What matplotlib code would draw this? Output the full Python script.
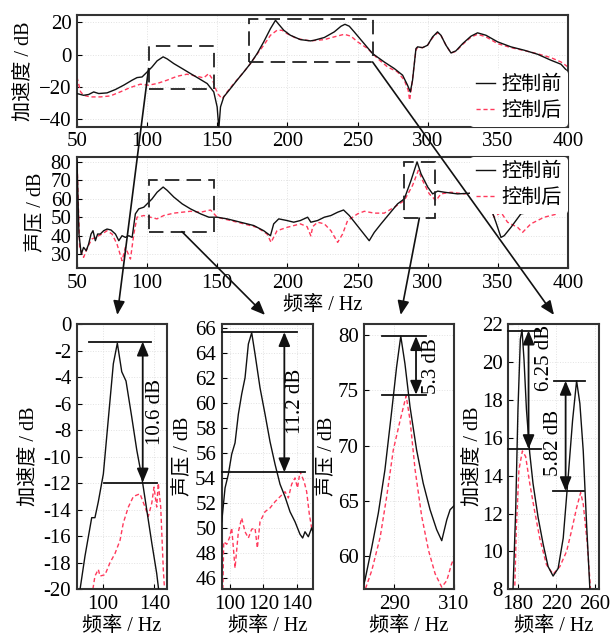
import matplotlib
matplotlib.use('Agg')
import matplotlib.pyplot as plt
from matplotlib.patches import Rectangle, ConnectionPatch, ArrowStyle
from matplotlib.ticker import FuncFormatter

plt.rcParams['font.family'] = ['Liberation Serif', 'Noto Sans CJK SC']
plt.rcParams['axes.unicode_minus'] = True

# ---------------- data: acceleration (top panel) ----------------
acc_before_f = [50, 54.7, 58.3, 61.9, 65.5, 71.4, 77.4, 83.3, 89.3, 92.8, 96.4, 100, 103.5, 107.1,
                111.4, 114.3, 119, 125, 130.9, 136.9, 142.8, 147.5, 149.9, 151.1, 152.3, 154.6,
                159.4, 164.1, 168.9, 173.6, 178.4, 183.1, 187.9, 191.5, 193.8, 197.4, 202.1, 209.2,
                216.4, 219.1, 226.3, 233.4, 238.2, 241, 244.1, 247.6, 253.6, 260.7, 269, 276.2,
                282.1, 285.6, 287.6, 289.2, 291.6, 292.8, 296.3, 299.9, 303.5, 307, 309.4, 313,
                316.6, 320.1, 324.9, 330.8, 335.5, 341.5, 349.8, 359.3, 368.8, 378.3, 387.8, 395, 400]
acc_before_db = [-24.2, -25.3, -24.8, -23.2, -24.2, -23.8, -21.7, -19, -15.9, -14.3, -13.9, -10.8, -7.7, -3.9,
                 -1.4, -2.7, -5.6, -8.7, -11.8, -14.9, -18, -23.2, -32.5, -46, -32.5, -26.3,
                 -21.1, -15.9, -10.8, -5.6, 0.6, 7.9, 16.1, 21.3, 18.8, 15.1, 12, 9.3,
                 8.5, 8.9, 10.6, 14.1, 17.6, 18.8, 17.6, 14.1, 7.9, 0.6, -4.6, -8.7,
                 -12.8, -19, -23.2, -15.9, 3.7, 4.8, 4.3, 5.8, 11, 14.1, 12, 5.8,
                 1, 2.3, 6.8, 11.4, 13.5, 12, 7.9, 4.8, 2.7, 0.2, -3.5, -6, -10.8]

acc_after_f = [50, 52.5, 54.7, 59.5, 66.6, 73.7, 80.8, 87.9, 95.1, 101, 107, 114.2, 121.3, 128.4,
               135.6, 140.3, 143.9, 146.3, 148.7, 150.5, 153.5, 157, 161.8, 168.9, 173.6, 178.4,
               183.1, 187.9, 192.6, 196.2, 199.7, 206.8, 216.4, 226.3, 233.4, 240.5, 245.3, 250,
               257.2, 264.3, 271.4, 278.5, 283.3, 286.1, 287.1, 288.5, 291.6, 292.8, 296.3, 299.9,
               303.5, 307, 309.4, 313, 316.6, 320.1, 324.9, 330.8, 335.5, 341.5, 349.8, 359.3,
               368.8, 378.3, 387.8, 395, 400]
acc_after_db = [-14, -23, -25.3, -26.3, -26.3, -25.7, -23.2, -20.5, -18.4, -19, -18, -15.9, -13.5, -12.2,
                -13.5, -14.5, -11.8, -14.9, -21, -24.5, -27.5, -23.2, -18, -10.8, -5.6, 0.3,
                5.8, 12, 15.1, 15.1, 13, 9.9, 8.5, 9.3, 11, 12.6, 11.4, 7.9,
                3.7, -2.5, -7.7, -10.8, -15.9, -22.2, -28.4, -20, 2.7, 4.5, 4.3, 5.8,
                10.5, 13.5, 12, 5.8, 1, 2.0, 6.3, 10.8, 12.6, 11, 6.8, 4.3,
                2.5, 0.5, -1.9, -4.6, -7.7]

# ---------------- data: sound pressure (second panel) ----------------
spl_before_f = [50, 51.4, 53, 54.7, 56.6, 58.3, 60, 61.4, 63.1, 64.7, 66.6, 69, 71.4, 74.2, 77.4,
                79.8, 82.1, 84.5, 86.9, 89.3, 91.6, 94, 97.6, 100, 103.5, 107.1, 111.4, 114.3, 119,
                125, 130.9, 138.1, 144, 149.9, 157, 166.5, 176, 183.1, 187.9, 190.2, 193.8, 199.7,
                204.5, 209.2, 214.4, 216.7, 221.5, 226.3, 231, 235.8, 240, 244.1, 248.8, 253.6,
                258.3, 261.9, 266.7, 272.6, 278.5, 283.3, 288.1, 292.4, 295.2, 300, 303.5, 307.1,
                311.8, 321.3, 330.8, 335.5, 340, 344, 348.6, 352.2, 354.5, 359.3, 366.4, 373.5,
                383, 392.5, 400]
spl_before_db = [80.5, 41, 30.1, 33.8, 32, 35.6, 41, 42.8, 37.4, 41, 41, 42.8, 43.7, 43.2, 41,
                 37.4, 40.1, 39.2, 40.1, 39.2, 51.9, 54.6, 55.5, 57.3, 60, 63.6, 66.4, 64.6, 61,
                 57.3, 54.6, 51.9, 50.1, 50.1, 49.2, 47.4, 45.6, 42.8, 40.1, 46.5, 49.2, 48.3,
                 47.4, 48.3, 50.1, 47.4, 48.3, 50.1, 51, 52.8, 54, 51, 46.5, 41.9,
                 37.4, 41.9, 46.5, 51.9, 57.3, 60, 70, 80, 73.6, 66.4, 62.7, 64.2,
                 63.6, 62.7, 63.1, 63.6, 62.5, 57, 47.4, 39.2, 40.1, 44.6, 51.9, 52.8,
                 53.7, 54.6, 54.6]

spl_after_f = [50, 51.9, 54.7, 57.5, 60.6, 63.1, 65.5, 67.8, 71.4, 75, 78.5, 82.1, 84.5, 88.1,
               90.5, 92.8, 97.6, 102.3, 107, 111.8, 119, 125, 130.9, 138.1, 145.2, 149.9, 159.4,
               168.9, 178.4, 185.5, 188.3, 192.6, 199.7, 209.2, 214, 216.7, 218, 221.5, 226.3,
               231, 235.8, 239.3, 242.9, 250, 254.8, 261.9, 269, 276.2, 283.3, 289.2, 293.3,
               296.3, 301.1, 305.9, 309.4, 316.6, 326.1, 333.2, 338, 344, 347.4, 352.2, 356.9,
               364.1, 367.6, 373.5, 383, 392.5, 400]
spl_after_db = [81, 33.8, 28.4, 33.8, 38.3, 39.2, 40.1, 41, 42.8, 41, 35.6, 26.6, 33.8, 27.5,
                41, 50.1, 51, 50.1, 49.2, 51, 52.3, 52.8, 53.3, 52.8, 54, 50.1, 48.3,
                46.5, 44.6, 41, 36.5, 42.8, 44.6, 46.5, 45, 40, 45, 47.4, 46.5,
                42.8, 36.5, 41, 48.3, 51.9, 53.3, 52.3, 52.3, 55.5, 59.1, 67.3, 75.4,
                70, 62.7, 59.1, 62.7, 63.6, 62.7, 63.6, 62, 56, 50.1, 52.8, 47.4,
                44.6, 41.9, 46.5, 50.1, 51.9, 54.6]

# ---------------- data: zoomed panels ----------------
z1_before_f = [80, 82.6, 86.4, 91.6, 94.1, 96.7, 100.6, 104.4, 108.3, 111.4, 114.8, 118.1, 122.5,
               126.4, 130.2, 134.1, 138, 141.8, 144.5]
z1_before_db = [-21.5, -20, -17.5, -14.6, -14.6, -13.4, -11.3, -7.2, -3, -1.45, -3.6, -4.3, -7,
                -9.5, -11.5, -14, -16.5, -18.8, -21]
z1_after_f = [90.5, 92.5, 94.1, 96.7, 98, 101.9, 105.7, 109.6, 113.5, 116, 119.9, 123.8, 128.9,
              132.8, 135.3, 138, 139.7, 141.8, 143, 144.9, 146.9, 148.5]
z1_after_db = [-21, -20, -19, -18.5, -19, -18.9, -18, -17.3, -16.3, -15, -13.8, -13, -12.8,
               -13.8, -14.5, -13.5, -12.3, -13.8, -12, -13.8, -18.5, -21]

z2_before_f = [95, 95.6, 97, 99, 101, 103, 105, 107, 109, 111, 113, 115, 118, 121, 124, 127, 130,
               133, 136, 139, 142, 143.6, 145, 147, 149, 150]
z2_before_db = [50.5, 51.3, 53.2, 54.3, 55.9, 56.8, 59.1, 60.7, 62, 64.7, 65.6, 63.9, 61.2, 59.1,
                56.9, 55.1, 53.5, 52.5, 51.3, 50.5, 49.5, 49.2, 49.7, 49.3, 50, 49.6]
z2_after_f = [95.3, 95.7, 96.2, 98, 99.6, 101, 103, 105, 107, 109, 111, 113, 115, 116.4, 118, 121,
              124, 127, 130, 133, 135, 137, 139, 140.5, 142, 144.5, 146, 147.6, 149, 150]
z2_after_db = [44, 45.2, 48.9, 48.7, 49.2, 50, 46.8, 49.7, 50.8, 49.7, 49.2, 49.9, 50, 48.4, 50.5,
               51.3, 51.6, 52.1, 52.5, 52.9, 52.4, 53.5, 54, 53.2, 54.5, 53.7, 52.9, 51.1, 50, 49.6]

z3_before_f = [279.5, 280.2, 282.5, 284.7, 286.9, 289.2, 290.8, 292.2, 293.6, 295.3, 297.5, 299.7,
               302, 304.2, 305.9, 307.6, 308.7, 309.8, 310.5]
z3_before_db = [57.2, 57.8, 60.8, 63.9, 67.8, 73.2, 77.1, 79.9, 77.4, 73.5, 69.6, 66.6,
                64.2, 62.4, 61.4, 63.3, 64.2, 64.5, 64.7]
z3_after_f = [279.5, 280.2, 282.5, 285.3, 287.5, 289.7, 292, 294, 295.3, 297, 299.2, 301.5,
              303.7, 305.9, 307.6, 309.2, 310.5]
z3_after_db = [56.5, 56.9, 58.7, 61.7, 65.4, 69.6, 72.3, 74.5, 72.3, 67.8, 63.6, 60.5,
               58.4, 57.2, 57.8, 59.3, 60.2]

z4_before_f = [173.5, 174.8, 177.6, 180, 182.5, 184.2, 186.3, 188.8, 192.2, 195.6, 200.9, 206.1,
               211.3, 216.5, 221.7, 227, 232.1, 236.7, 240.9, 244.3, 247.8, 251.3, 254.8, 256]
z4_before_db = [6, 7.9, 12.1, 17.5, 21.2, 21.7, 20.1, 17.5, 15.2, 13.6, 11.8, 10.4,
                9.2, 8.7, 9.1, 10.7, 13.9, 16.9, 19.0, 17.8, 15.3, 11.4, 7.9, 6.5]
z4_after_f = [175.5, 176.6, 178.3, 181, 184.6, 188, 192.2, 197.4, 202.6, 209.6, 216.5, 223.5, 230.5,
              235.7, 240.9, 245.1, 247.8, 252, 255.5, 256.5]
z4_after_db = [6, 7.9, 11.2, 14.3, 15.3, 15.0, 13.6, 12.1, 10.7, 9.3, 8.8, 9.2, 10,
               11.1, 12.3, 13.1, 12.5, 10.4, 7.9, 6.5]

# dashed selection boxes: (f0, db0, f1, db1)
acc_boxes = [(101, -21.6, 148, 5.3), (172.6, -4.6, 260.7, 22.0)]
spl_boxes = [(101, 42.3, 148, 70.0), (283.3, 49.6, 305, 80.0)]

# annotation guides in zoom panels: horizontal lines (f0, f1, level), arrows (f, top, bottom), texts
z1_levels = [(89.7, 137.3, -1.33), (101.1, 141.8, -11.95)]
z1_arrows = [(131, -1.33, -11.95)]
z1_texts = [(140.5, -6.6, '10.6 dB')]
z2_levels = [(95, 140.2, 65.65), (95, 145, 54.45)]
z2_arrows = [(132.6, 65.65, 54.45)]
z2_texts = [(139.2, 60.1, '11.2 dB')]
z3_levels = [(285.8, 300.6, 79.9), (285.8, 300.6, 74.6)]
z3_arrows = [(297.3, 79.9, 74.6)]
z3_texts = [(302.6, 77.2, '5.3 dB')]
z4_levels = [(170, 203.8, 21.65), (170, 204, 15.4), (217, 250, 19.0), (216, 249, 13.18)]
z4_arrows = [(191, 21.65, 15.4), (229.5, 19.0, 13.18)]
z4_texts = [(207.8, 20.2, '6.25 dB'), (216.5, 15.7, '5.82 dB')]

BLACK = '#111111'
RED = '#ff3a5c'
SPINE = '#333333'
FS_TICK = 15
FS_LAB = 14.5

fig = plt.figure(figsize=(6.14, 6.38), dpi=100)
ax_acc = fig.add_axes([0.1254, 0.8014, 0.7997, 0.1749])
ax_spl = fig.add_axes([0.1254, 0.5795, 0.7997, 0.1749])
ax_z1 = fig.add_axes([0.1249, 0.0763, 0.1476, 0.4159])
ax_z2 = fig.add_axes([0.3611, 0.0763, 0.1492, 0.4159])
ax_z3 = fig.add_axes([0.5933, 0.0763, 0.1461, 0.4159])
ax_z4 = fig.add_axes([0.8279, 0.0763, 0.1482, 0.4159])


def style(ax):
    for s in ax.spines.values():
        s.set_linewidth(1.5)
        s.set_color(SPINE)
    ax.tick_params(direction='in', length=3.5, width=0.8, labelsize=FS_TICK, pad=4)
    ax.grid(True, color='#e2e2e2', ls=':', lw=0.7)
    ax.set_axisbelow(True)


def curves(ax, fb, db, fa, da):
    ax.plot(fb, db, color=BLACK, lw=1.0, label='控制前', zorder=3)
    ax.plot(fa, da, color=RED, lw=1.0, ls=(0, (3, 2)), label='控制后', zorder=2)


def boxes(ax, bx):
    for f0, d0, f1, d1 in bx:
        ax.add_patch(Rectangle((f0, d0), f1 - f0, d1 - d0, fill=False, ec='#222222',
                               lw=1.3, ls=(0, (8, 4)), zorder=4))


def guides(ax, levels, arrows, texts):
    for f0, f1, lv in levels:
        ax.plot([f0, f1], [lv, lv], color=BLACK, lw=1.3, zorder=5, clip_on=False)
    for f, top, bot in arrows:
        ax.annotate('', xy=(f, bot), xytext=(f, top),
                    arrowprops=dict(arrowstyle=ArrowStyle('<|-|>', head_length=0.6, head_width=0.25),
                                    mutation_scale=14, lw=1.3, color=BLACK, shrinkA=0, shrinkB=0),
                    zorder=5)
    for f, v, t in texts:
        ax.text(f, v, t, rotation=90, ha='center', va='center', fontsize=FS_TICK, zorder=6)


def legend(ax, loc):
    lg = ax.legend(loc=loc, fontsize=FS_LAB, frameon=True, handlelength=0.9,
                   handletextpad=0.35, labelspacing=0.33, borderpad=0.3, borderaxespad=0.0)
    fr = lg.get_frame()
    fr.set_facecolor('white')
    fr.set_edgecolor('none')
    fr.set_alpha(1)
    lg.set_zorder(10)


# ---- top: acceleration ----
curves(ax_acc, acc_before_f, acc_before_db, acc_after_f, acc_after_db)
boxes(ax_acc, acc_boxes)
ax_acc.set_xlim(50, 400)
ax_acc.set_ylim(-44.8, 24.5)
ax_acc.set_xticks(range(50, 401, 50))
ax_acc.set_yticks([-40, -20, 0, 20])
ax_acc.set_ylabel('加速度 / dB', fontsize=FS_LAB)
style(ax_acc)
legend(ax_acc, 'lower right')

# ---- second: sound pressure ----
curves(ax_spl, spl_before_f, spl_before_db, spl_after_f, spl_after_db)
boxes(ax_spl, spl_boxes)
ax_spl.set_xlim(50, 400)
ax_spl.set_ylim(22.5, 82.8)
ax_spl.set_xticks(range(50, 401, 50))
ax_spl.set_yticks(range(30, 81, 10))
ax_spl.set_ylabel('声压 / dB', fontsize=FS_LAB)
ax_spl.set_xlabel('频率 / Hz', fontsize=FS_LAB, labelpad=2)
style(ax_spl)
legend(ax_spl, 'upper right')

# ---- zoom panels ----
curves(ax_z1, z1_before_f, z1_before_db, z1_after_f, z1_after_db)
ax_z1.set_xlim(80, 150)
ax_z1.set_ylim(-20, 0)
ax_z1.set_xticks([100, 140])
ax_z1.set_yticks(range(-20, 1, 2))
ax_z1.yaxis.set_major_formatter(FuncFormatter(lambda v, p: f'{v:g}'))
ax_z1.set_ylabel('加速度 / dB', fontsize=FS_LAB)
guides(ax_z1, z1_levels, z1_arrows, z1_texts)

curves(ax_z2, z2_before_f, z2_before_db, z2_after_f, z2_after_db)
ax_z2.set_xlim(95, 150)
ax_z2.set_ylim(45.1, 66.3)
ax_z2.set_xticks([100, 120, 140])
ax_z2.set_yticks(range(46, 67, 2))
ax_z2.set_ylabel('声压 / dB', fontsize=FS_LAB, labelpad=2)
guides(ax_z2, z2_levels, z2_arrows, z2_texts)

curves(ax_z3, z3_before_f, z3_before_db, z3_after_f, z3_after_db)
ax_z3.set_xlim(280, 310)
ax_z3.set_ylim(57, 81)
ax_z3.set_xticks([290, 310])
ax_z3.set_yticks([60, 65, 70, 75, 80])
ax_z3.set_ylabel('声压 / dB', fontsize=FS_LAB, labelpad=1)
guides(ax_z3, z3_levels, z3_arrows, z3_texts)

curves(ax_z4, z4_before_f, z4_before_db, z4_after_f, z4_after_db)
ax_z4.set_xlim(170, 264.5)
ax_z4.set_ylim(8, 22)
ax_z4.set_xticks([180, 220, 260])
ax_z4.set_yticks(range(8, 23, 2))
ax_z4.set_ylabel('加速度 / dB', fontsize=FS_LAB, labelpad=0)
guides(ax_z4, z4_levels, z4_arrows, z4_texts)

for ax in (ax_z1, ax_z2, ax_z3, ax_z4):
    style(ax)
    ax.set_xlabel('频率 / Hz', fontsize=FS_LAB, labelpad=2)

# ---- connector arrows from boxes to zoom panels ----
connectors = [
    (ax_acc, (101, -8.7), ax_z1, (0.448, 1.034)),
    (ax_spl, (124.8, 42.3), ax_z2, (0.473, 1.034)),
    (ax_spl, (294.0, 49.6), ax_z3, (0.406, 1.034)),
    (ax_acc, (260.7, -4.6), ax_z4, (0.502, 1.034)),
]
for axA, pA, axB, pB in connectors:
    con = ConnectionPatch(xyA=pA, coordsA='data', axesA=axA,
                          xyB=pB, coordsB='axes fraction', axesB=axB,
                          arrowstyle=ArrowStyle('-|>', head_length=0.6, head_width=0.25),
                          mutation_scale=14, lw=1.2, color=BLACK, shrinkA=0, shrinkB=0,
                          zorder=20)
    fig.add_artist(con)

fig.savefig('out.png', dpi=100)
